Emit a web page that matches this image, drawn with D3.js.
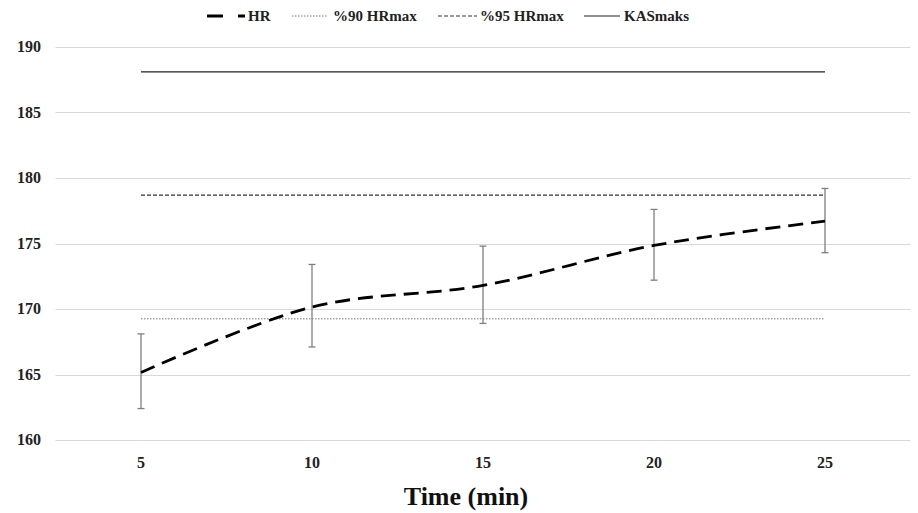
<!DOCTYPE html>
<html><head><meta charset="utf-8">
<script src="https://cdn.jsdelivr.net/npm/d3@7"></script>
<style>body{margin:0;background:#fff}svg{display:block}
svg text{font-family:"Liberation Serif","Times New Roman","DejaVu Serif",serif;font-weight:bold}</style>
</head><body>
<script>
const categories = ["5","10","15","20","25"];
const hr = [165.15, 170.15, 171.8, 174.85, 176.7];
const errHigh = [168.1, 173.4, 174.8, 177.6, 179.2];
const errLow = [162.4, 167.1, 168.9, 172.2, 174.3];
const hr90 = [169.25, 169.25, 169.25, 169.25, 169.25];
const hr95 = [178.7, 178.7, 178.7, 178.7, 178.7];
const kasmaks = [188.1, 188.1, 188.1, 188.1, 188.1];
const yTicks = [160,165,170,175,180,185,190];
const legendLabels = ["HR","%90 HRmax","%95 HRmax","KASmaks"];

const W=918,H=513;
const svg=d3.select("body").append("svg").attr("width",W).attr("height",H);
const x=d3.scaleBand().domain(categories).range([55.5,910.5]);
const cx=c=>x(c)+x.bandwidth()/2;
const y=d3.scaleLinear().domain([160,190]).range([440,47]);

// grid
svg.append("g").selectAll("line").data(yTicks).join("line")
 .attr("x1",55.5).attr("x2",910.5).attr("y1",d=>Math.round(y(d))+0.5).attr("y2",d=>Math.round(y(d))+0.5)
 .attr("stroke","#d9d9d9").attr("stroke-width",1);
// y labels
svg.append("g").selectAll("text").data(yTicks).join("text")
 .attr("x",41).attr("y",d=>y(d)+5).attr("text-anchor","end")
 .attr("font-size",16).attr("fill","#222").text(d=>d);
// x labels
svg.append("g").selectAll("text").data(categories).join("text")
 .attr("x",d=>cx(d)).attr("y",468).attr("text-anchor","middle")
 .attr("font-size",16).attr("fill","#222").text(d=>d);
svg.append("text").attr("x",466).attr("y",505).attr("text-anchor","middle")
 .attr("font-size",26).attr("fill","#111").text("Time (min)");

const straight=d3.line().x((d,i)=>cx(categories[i])).y(d=>y(d));
svg.append("path").attr("d",straight(kasmaks)).attr("fill","none").attr("stroke","#222").attr("stroke-width",1.2);
svg.append("path").attr("d",straight(hr95)).attr("fill","none").attr("stroke","#333").attr("stroke-width",1.2).attr("stroke-dasharray","4,2");
svg.append("path").attr("d",straight(hr90)).attr("fill","none").attr("stroke","#777").attr("stroke-width",1).attr("stroke-dasharray","1.5,1.5");

// error bars
const eb=svg.append("g").attr("stroke","#7f7f7f").attr("stroke-width",1.3);
categories.forEach((c,i)=>{
  const X=cx(c);
  eb.append("line").attr("x1",X).attr("x2",X).attr("y1",y(errHigh[i])).attr("y2",y(errLow[i]));
  eb.append("line").attr("x1",X-3.5).attr("x2",X+3.5).attr("y1",y(errHigh[i])).attr("y2",y(errHigh[i]));
  eb.append("line").attr("x1",X-3.5).attr("x2",X+3.5).attr("y1",y(errLow[i])).attr("y2",y(errLow[i]));
});

const smooth=d3.line().x((d,i)=>cx(categories[i])).y(d=>y(d)).curve(d3.curveCatmullRom.alpha(0.5));
svg.append("path").attr("d",smooth(hr)).attr("fill","none").attr("stroke","#000").attr("stroke-width",2.8).attr("stroke-dasharray","15,8");

// legend
const lg=svg.append("g");
const items=[
 {x1:207,x2:245,tx:248,dash:"16,15",w:2.8,c:"#000"},
 {x1:292,x2:327,tx:333,dash:"1.5,1.5",w:1,c:"#777"},
 {x1:438,x2:477,tx:480,dash:"4,2",w:1.2,c:"#333"},
 {x1:584,x2:620,tx:624,dash:null,w:1.2,c:"#222"}];
items.forEach((it,i)=>{
  const l=lg.append("line").attr("x1",it.x1).attr("x2",it.x2).attr("y1",16).attr("y2",16).attr("stroke",it.c).attr("stroke-width",it.w);
  if(it.dash) l.attr("stroke-dasharray",it.dash);
  lg.append("text").attr("x",it.tx).attr("y",21).attr("font-size",15).attr("fill","#222").text(legendLabels[i]);
});
</script>
</body></html>
